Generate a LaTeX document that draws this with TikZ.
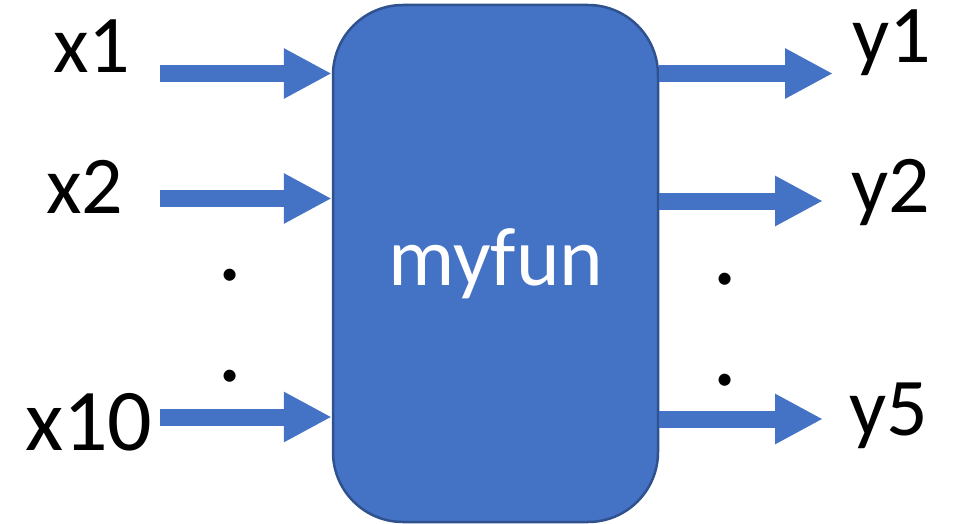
\documentclass[tikz,border=0pt]{standalone}
\usepackage{fontspec}
\setmainfont{Carlito}
\usetikzlibrary{arrows.meta}
\definecolor{boxblue}{HTML}{4472C4}
\definecolor{boxedge}{HTML}{2F528F}
\tikzset{
  lbl/.style={inner sep=0pt, anchor=base west, font=\fontsize{82}{98}\selectfont, text=black},
  biglbl/.style={inner sep=0pt, anchor=base west, font=\fontsize{88}{106}\selectfont, text=black},
  dotlbl/.style={inner sep=0pt, anchor=base, font=\fontsize{100}{120}\selectfont, text=black},
  funbox/.style={draw=boxedge, line width=2.5pt, fill=boxblue, rounded corners=70pt,
    minimum width=325pt, minimum height=517pt, inner sep=0pt},
  arr/.style={draw=boxblue, line width=17pt, -{Triangle[length=48pt, width=47pt]}}
}
\begin{document}
\begin{tikzpicture}[x=1pt, y=-1pt]
\useasboundingbox (0,0) rectangle (953,524);
% box
\node[funbox] (f) at (495.5,263.5) {};
\node[inner sep=0pt, anchor=base west, font=\fontsize{83}{100}\selectfont, text=white] (name) at (388,285) {myfun};
% labels
\node[lbl] (x1) at (53,73) {x1};
\node[lbl] (x2) at (46,213) {x2};
\node[biglbl] (x10) at (25,450) {x10};
\node[lbl] (y1) at (852,63) {y1};
\node[lbl] (y2) at (851,212) {y2};
\node[lbl] (y5) at (849,435) {y5};
% dots
\node[dotlbl] (d1) at (230,280) {.};
\node[dotlbl] (d2) at (230,381) {.};
\node[dotlbl] (d3) at (725,284) {.};
\node[dotlbl] (d4) at (725,385) {.};
% arrow ends
\coordinate (s1) at (160,73.5);
\coordinate (s2) at (160,198.5);
\coordinate (s3) at (160,417);
\coordinate (e1) at (833,73.5);
\coordinate (e2) at (823,201);
\coordinate (e3) at (823,419);
% arrows
\draw[arr] (s1) -- (s1 -| f.west);
\draw[arr] (s2) -- (s2 -| f.west);
\draw[arr] (s3) -- (s3 -| f.west);
\draw[arr] (e1 -| f.east) -- (e1);
\draw[arr] (e2 -| f.east) -- (e2);
\draw[arr] (e3 -| f.east) -- (e3);
\end{tikzpicture}
\end{document}
